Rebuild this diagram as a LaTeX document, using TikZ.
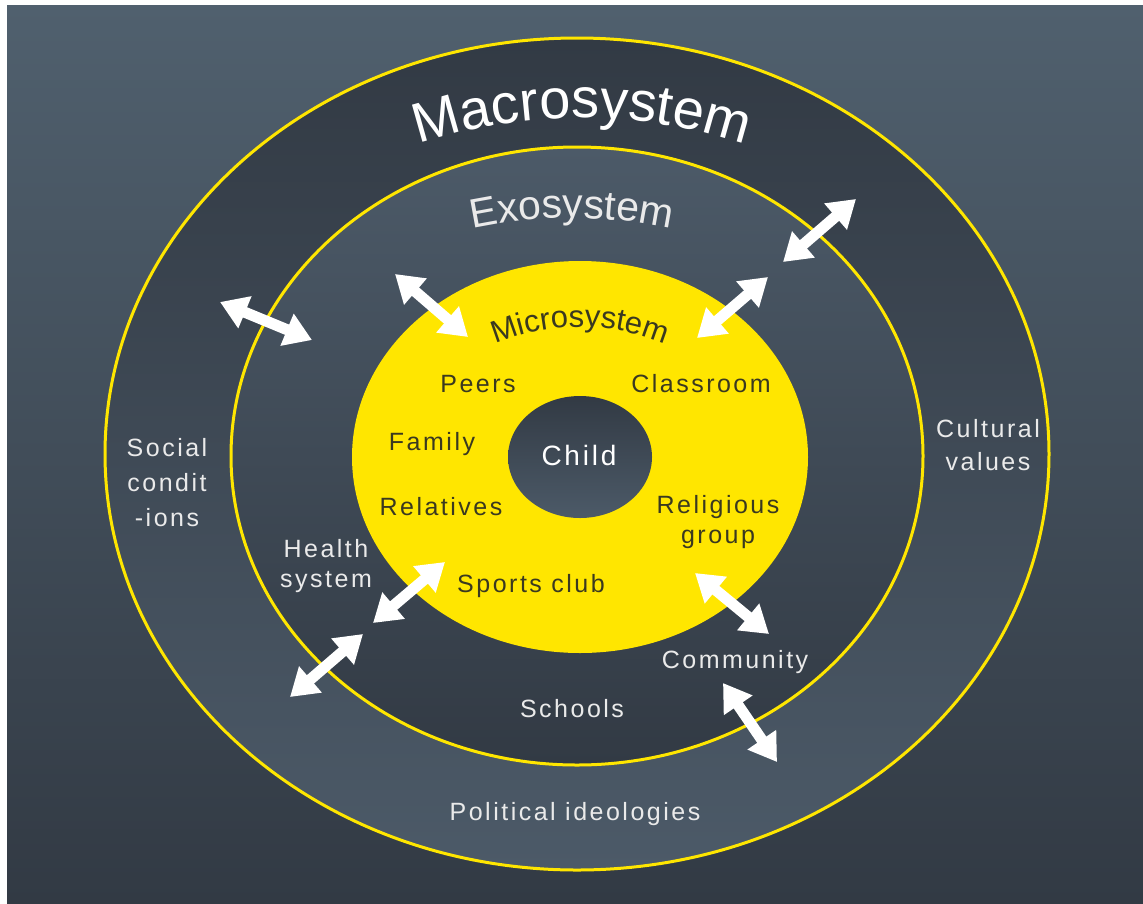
\documentclass[tikz,border=0pt]{standalone}
\usepackage{fontspec}
\setmainfont{Liberation Sans}[LetterSpace=10]
\usetikzlibrary{shapes.geometric,arrows.meta,decorations.text}

\definecolor{bgtop}{RGB}{80,96,110}
\definecolor{bgbot}{RGB}{50,58,68}
\definecolor{ringdark}{RGB}{50,58,68}
\definecolor{ringlight}{RGB}{76,90,104}
\definecolor{sysyellow}{RGB}{255,230,0}
\definecolor{olivetext}{RGB}{58,57,32}
\definecolor{labelwhite}{RGB}{234,234,234}

\begin{document}
\begin{tikzpicture}[x=1pt,y=1pt,
    ring/.style={ellipse, draw=sysyellow, line width=3pt, inner sep=0pt},
    ylabel/.style={text=olivetext, font=\fontsize{25}{30}\selectfont, align=center},
    wlabel/.style={text=labelwhite, font=\fontsize{25}{32}\selectfont, align=center},
    dblarrow/.style={draw=white, line width=11pt, {Triangle[length=27pt,width=33pt]}-{Triangle[length=27pt,width=33pt]}}]
    \useasboundingbox (0,-903) rectangle (1143,0);
    \fill[white] (0,-903) rectangle (1143,0);
    \shade[top color=bgtop, bottom color=bgbot] (7,-903) rectangle (1143,-5);

    % Nested systems
    \node[ring, minimum width=944pt, minimum height=832pt, top color=ringdark, bottom color=ringlight] (macro) at (577,-454) {};
    \node[ring, minimum width=692pt, minimum height=618pt, top color=ringlight, bottom color=ringdark] (exo) at (577,-456) {};
    \node[ellipse, fill=sysyellow, minimum width=456pt, minimum height=392pt, inner sep=0pt] (micro) at (580,-457) {};
    \node[ellipse, minimum width=144pt, minimum height=122pt, inner sep=0pt, top color=ringdark, bottom color=ringlight] (child) at (580,-457) {};

    % Curved system titles
    \path[decorate, decoration={text along path, text align=center, text color=white,
        text={|\fontsize{56}{56}\selectfont|Macrosystem}}] (582,-638) ++(116:520) arc[start angle=116, end angle=64, radius=520];
    \path[decorate, decoration={text along path, text align=center, text color=labelwhite,
        text={|\fontsize{41}{41}\selectfont|Exosystem}}] (572,-698) ++(108:480) arc[start angle=108, end angle=72, radius=480];
    \path[decorate, decoration={text along path, text align=center, text color=olivetext,
        text={|\fontsize{31}{31}\selectfont|Microsystem}}] (580,-547) ++(130:220) arc[start angle=130, end angle=50, radius=220];

    % Microsystem labels
    \node[ylabel, anchor=base] (peers) at (478,-392) {Peers};
    \node[ylabel, anchor=base] (classroom) at (701,-392) {Classroom};
    \node[ylabel, anchor=base] (family) at (432,-450) {Family};
    \node[ylabel, anchor=base] (relatives) at (441,-515) {Relatives};
    \node[ylabel] (religious) at (718,-522) {Religious\\group};
    \node[ylabel, anchor=base] (sports) at (531,-592) {Sports club};
    \node[text=white, font=\fontsize{28}{28}\selectfont, anchor=base] (childtxt) at (579,-465) {Child};

    % Exosystem and macrosystem labels
    \node[wlabel, font=\fontsize{25}{35}\selectfont] (social) at (167,-483) {Social\\condit\\-ions};
    \node[wlabel, font=\fontsize{25}{30}\selectfont] (health) at (326,-566) {Health\\system};
    \node[wlabel, font=\fontsize{25}{33}\selectfont] (cultural) at (988,-445) {Cultural\\values};
    \node[wlabel, anchor=base] (community) at (735,-668) {Community};
    \node[wlabel, anchor=base] (schools) at (572,-717) {Schools};
    \node[wlabel, anchor=base] (political) at (575,-820) {Political ideologies};

    % Interaction arrows
    \coordinate (a1s) at (220,-302); \coordinate (a1e) at (312,-340);
    \coordinate (a2s) at (395,-274); \coordinate (a2e) at (468,-337);
    \coordinate (a3s) at (697,-338); \coordinate (a3e) at (768,-277);
    \coordinate (a4s) at (783,-262); \coordinate (a4e) at (856,-199);
    \coordinate (a5s) at (373,-623); \coordinate (a5e) at (445,-562);
    \coordinate (a6s) at (290,-697); \coordinate (a6e) at (363,-634);
    \coordinate (a7s) at (695,-573); \coordinate (a7e) at (769,-634);
    \coordinate (a8s) at (723,-683); \coordinate (a8e) at (777,-762);
    \foreach \i in {1,...,8}
        \draw[dblarrow] (a\i s) -- (a\i e);
\end{tikzpicture}
\end{document}
